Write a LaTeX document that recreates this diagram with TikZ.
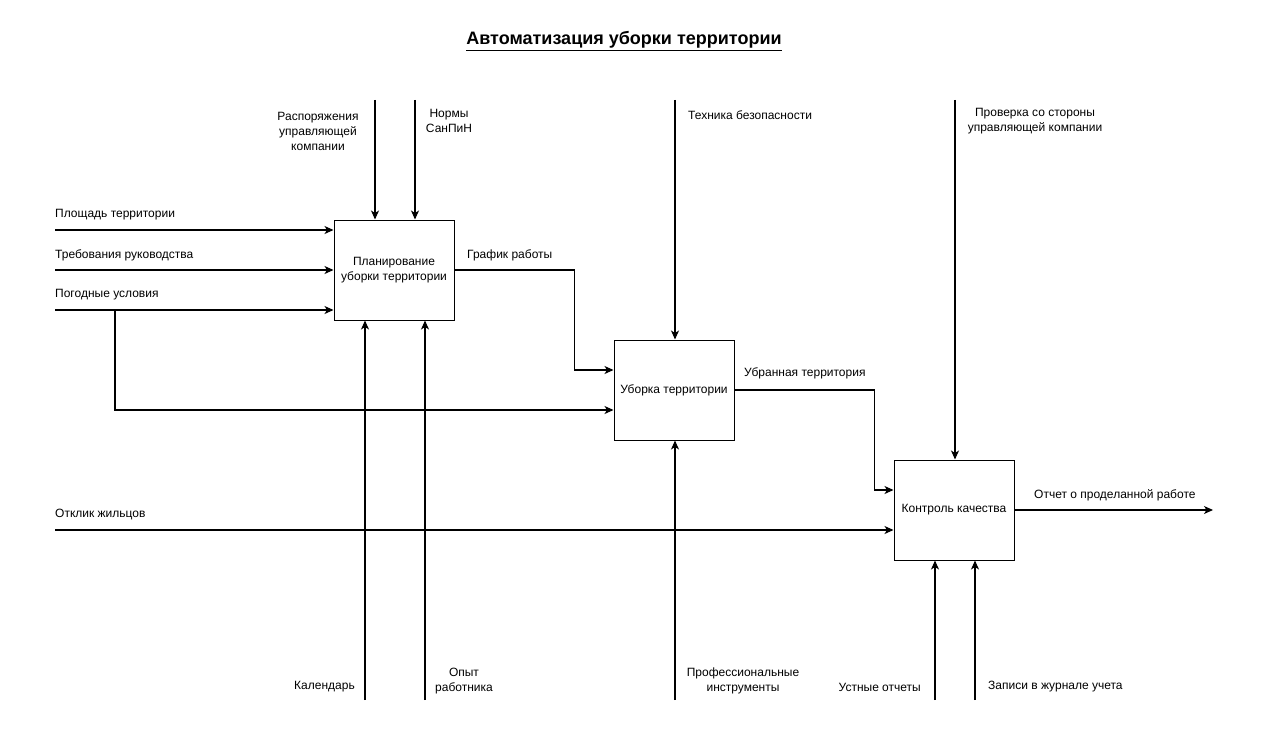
\documentclass[tikz,border=0pt]{standalone}
\usepackage{fontspec}
\setmainfont{Liberation Sans}
\usetikzlibrary{arrows.meta,positioning,calc}

\begin{document}
\begin{tikzpicture}[x=1bp, y=-1bp,
        func/.style={draw, line width=1bp, minimum width=120bp, minimum height=100bp, align=center, inner sep=2bp, font=\fontsize{12bp}{15bp}\selectfont},
        arrow/.style={line width=1.1bp, -{Stealth[length=9bp, width=8bp, inset=2.5bp]}},
        label_node/.style={font=\fontsize{12bp}{15bp}\selectfont, inner sep=0pt, align=center}
    ]
    \useasboundingbox (0,0) rectangle (1275,741);

    % Titolo
    \node[font=\fontsize{18bp}{21bp}\selectfont\bfseries] (title) at (624,41) {\underline{Автоматизация уборки территории}};

    % Blocchi
    \node[func] (plan) at (394,270) {Планирование\\уборки территории};
    \node[func] (clean) at (674,390) {Уборка территории};
    \node[func] (ctrl) at (954,510) {Контроль качества};

    % Estremi liberi
    \coordinate (in1) at (55,230);
    \coordinate (in2) at (55,270);
    \coordinate (in3) at (55,310);
    \coordinate (in4) at (55,530);
    \coordinate (br) at (115,310);
    \coordinate (ctl1) at (375,100);
    \coordinate (ctl2) at (415,100);
    \coordinate (ctl3) at (675,100);
    \coordinate (ctl4) at (955,100);
    \coordinate (mec1) at (365,700);
    \coordinate (mec2) at (425,700);
    \coordinate (mec3) at (675,700);
    \coordinate (mec4) at (935,700);
    \coordinate (mec5) at (975,700);
    \coordinate (out) at (1213,510);

    % Ingressi
    \draw[arrow] (in1) -- (in1 -| plan.west);
    \draw[arrow] (in2) -- (in2 -| plan.west);
    \draw[arrow] (in3) -- (in3 -| plan.west);
    \draw[arrow] (br) |- ($(clean.west)+(0,20)$);
    \draw[arrow] (in4) -- ($(ctrl.west)+(0,20)$);

    % Controlli
    \draw[arrow] (ctl1) -- (ctl1 |- plan.north);
    \draw[arrow] (ctl2) -- (ctl2 |- plan.north);
    \draw[arrow] (ctl3) -- (ctl3 |- clean.north);
    \draw[arrow] (ctl4) -- (ctl4 |- ctrl.north);

    % Meccanismi
    \draw[arrow] (mec1) -- (mec1 |- plan.south);
    \draw[arrow] (mec2) -- (mec2 |- plan.south);
    \draw[arrow] (mec3) -- (mec3 |- clean.south);
    \draw[arrow] (mec4) -- (mec4 |- ctrl.south);
    \draw[arrow] (mec5) -- (mec5 |- ctrl.south);

    % Uscite
    \draw[arrow] (plan.east) -- ++(120,0) |- ($(clean.west)+(0,-20)$);
    \draw[arrow] (clean.east) -- ++(140,0) |- ($(ctrl.west)+(0,-20)$);
    \draw[arrow] (ctrl.east) -- (out);

    % Etichette
    \node[label_node, anchor=west] (lin1) at (55,215) {Площадь территории};
    \node[label_node, anchor=west] (lin2) at (55,255) {Требования руководства};
    \node[label_node, anchor=west] (lin3) at (55,295) {Погодные условия};
    \node[label_node, anchor=west] (lin4) at (55,515) {Отклик жильцов};
    \node[label_node] (lctl1) at (318,131) {Распоряжения\\управляющей\\компании};
    \node[label_node] (lctl2) at (449,121) {Нормы\\СанПиН};
    \node[label_node, anchor=west] (lctl3) at (688,115) {Техника безопасности};
    \node[label_node] (lctl4) at (1035,121) {Проверка со стороны\\управляющей компании};
    \node[label_node, anchor=east] (lmec1) at (355,687) {Календарь};
    \node[label_node] (lmec2) at (464,681) {Опыт\\работника};
    \node[label_node] (lmec3) at (743,681) {Профессиональные\\инструменты};
    \node[label_node, anchor=east] (lmec4) at (921,687) {Устные отчеты};
    \node[label_node, anchor=west] (lmec5) at (988,687) {Записи в журнале учета};
    \node[label_node, anchor=west] (lout1) at (467,255) {График работы};
    \node[label_node, anchor=west] (lout2) at (744,373) {Убранная территория};
    \node[label_node, anchor=west] (lout3) at (1034,495) {Отчет о проделанной работе};
\end{tikzpicture}
\end{document}
